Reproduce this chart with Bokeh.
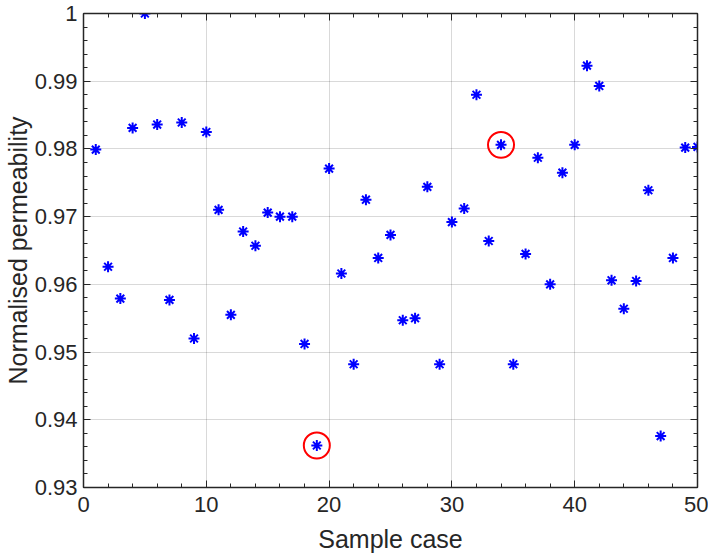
from bokeh.plotting import figure
from bokeh.models import LinearAxis, Range1d, FixedTicker
from bokeh.embed import file_html
from bokeh.resources import INLINE

sample_case = list(range(1, 51))
permeability = [0.9799, 0.9626, 0.9579, 0.9831, 1.0000, 0.9836, 0.9577, 0.9839, 0.9520, 0.9825,
                0.9710, 0.9555, 0.9678, 0.9657, 0.9706, 0.9700, 0.9700, 0.9512, 0.9362, 0.9771,
                0.9616, 0.9482, 0.9725, 0.9639, 0.9673, 0.9547, 0.9550, 0.9744, 0.9482, 0.9692,
                0.9712, 0.9880, 0.9664, 0.9806, 0.9482, 0.9645, 0.9787, 0.9600, 0.9765, 0.9806,
                0.9923, 0.9893, 0.9606, 0.9564, 0.9605, 0.9739, 0.9376, 0.9639, 0.9802, 0.9803]
highlight_cases = [19, 34]
highlight_values = [permeability[c - 1] for c in highlight_cases]

x_ticks = [0, 10, 20, 30, 40, 50]
y_ticks = [0.93, 0.94, 0.95, 0.96, 0.97, 0.98, 0.99, 1.0]
y_tick_labels = {0.93: "0.93", 0.94: "0.94", 0.95: "0.95", 0.96: "0.96", 0.97: "0.97",
                 0.98: "0.98", 0.99: "0.99", 1.0: "1"}

FONT = "Liberation Sans"
AX = "#262626"
x_minor = list(range(0, 51, 2))
y_minor = [round(0.93 + 0.002 * i, 3) for i in range(36)]

p = figure(width=708, height=556, output_backend="svg", toolbar_location=None,
           x_range=Range1d(0, 50), y_range=Range1d(0.93, 1.0),
           min_border_left=82, min_border_right=11, min_border_top=13, min_border_bottom=69,
           x_axis_label="Sample case", y_axis_label="Normalised permeability")
p.outline_line_color = None
p.background_fill_color = "white"

for ax in (p.xaxis[0], p.yaxis[0]):
    ax.axis_line_color = AX
    ax.axis_line_width = 1.5
    ax.major_tick_in = 7
    ax.major_tick_out = 0
    ax.minor_tick_in = 4
    ax.minor_tick_out = 0
    ax.major_tick_line_color = AX
    ax.minor_tick_line_color = AX
    ax.major_label_text_font = FONT
    ax.major_label_text_font_size = "22px"
    ax.major_label_text_color = AX
    ax.axis_label_text_font = FONT
    ax.axis_label_text_font_size = "25px"
    ax.axis_label_text_font_style = "normal"
    ax.axis_label_text_color = AX

p.xaxis[0].ticker = FixedTicker(ticks=x_ticks, minor_ticks=x_minor)
p.yaxis[0].ticker = FixedTicker(ticks=y_ticks, minor_ticks=y_minor)
p.yaxis[0].major_label_overrides = y_tick_labels
p.xaxis[0].major_label_standoff = 9
p.xaxis[0].axis_label_standoff = 10
p.yaxis[0].major_label_standoff = 6
p.yaxis[0].axis_label_standoff = 0

top = LinearAxis(ticker=FixedTicker(ticks=x_ticks, minor_ticks=x_minor))
right = LinearAxis(ticker=FixedTicker(ticks=y_ticks, minor_ticks=y_minor))
top.major_label_overrides = {t: "" for t in x_ticks}
right.major_label_overrides = {t: "" for t in y_ticks}
for ax in (top, right):
    ax.axis_line_color = AX
    ax.axis_line_width = 1.5
    ax.major_tick_in = 7
    ax.major_tick_out = 0
    ax.minor_tick_in = 4
    ax.minor_tick_out = 0
    ax.major_tick_line_color = AX
    ax.minor_tick_line_color = AX
    ax.major_label_standoff = 0
    ax.major_label_text_font_size = "1px"
p.add_layout(top, "above")
p.add_layout(right, "right")

p.xgrid.ticker = FixedTicker(ticks=x_ticks)
p.ygrid.ticker = FixedTicker(ticks=y_ticks)
p.grid.grid_line_color = "#000000"
p.grid.grid_line_alpha = 0.15
p.grid.grid_line_width = 1

p.scatter(sample_case, permeability, marker="asterisk", size=11, line_color="#0000ff", line_width=2)
p.scatter(highlight_cases, highlight_values, marker="circle", size=26, fill_color=None,
          line_color="#ff0000", line_width=2)

open("out.html", "w").write(file_html(p, INLINE))
